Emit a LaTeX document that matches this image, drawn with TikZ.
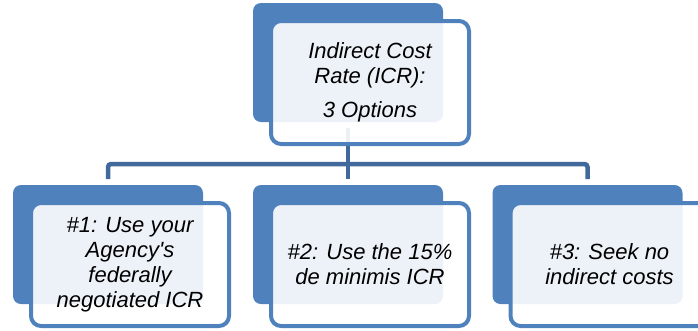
\documentclass[tikz,border=0pt]{standalone}
\usepackage{fontspec}
\setmainfont{Liberation Sans}
\usetikzlibrary{positioning}
\definecolor{OfficeBlue}{HTML}{4F81BD}
\definecolor{LinkBlue}{HTML}{41699C}
\tikzset{
  backbox/.style={rectangle, rounded corners=8pt, fill=OfficeBlue,
    minimum width=190pt, minimum height=119pt, inner sep=0pt, outer sep=0pt},
  frontbox/.style={rectangle, rounded corners=10pt, draw=OfficeBlue,
    line width=4pt, fill=white, fill opacity=0.9, text opacity=1,
    minimum width=198pt, minimum height=123pt, inner sep=0pt, outer sep=0pt,
    align=center, font=\fontsize{22}{25}\selectfont\itshape},
  link/.style={line width=4.5pt, LinkBlue, shorten <=6pt, shorten >=6pt}
}
\begin{document}
\begin{tikzpicture}[x=1pt,y=-1pt]
  \useasboundingbox (0,0) rectangle (698,330);
  \clip (0,0) rectangle (698,330);

  % back boxes
  \node[backbox] (b0) at (348,62.5) {};
  \foreach \n/\x in {1/108,2/348,3/587.5}{%
    \node[backbox] (b\n) at (\x,244.5) {};
  }

  % connectors
  \coordinate (bar) at (348,164);
  \draw[link] (b0.south) -- (b2.north);
  \draw[link, rounded corners=3pt] (b1.north) |- (bar) -| (b3.north);

  % front boxes
  \node[frontbox, below right=18pt and 18pt of b0.north west] (f0)
    {Indirect Cost\\Rate (ICR):\\[9pt]3 Options};
  \node[frontbox, below right=18pt and 18pt of b1.north west] (f1)
    {\#1: Use your\\Agency\textquotesingle s\\federally\\negotiated ICR};
  \node[frontbox, below right=18pt and 18pt of b2.north west] (f2)
    {\#2: Use the 15\%\\de minimis ICR};
  \node[frontbox, below right=18pt and 18pt of b3.north west] (f3)
    {\#3: Seek no\\indirect costs};
\end{tikzpicture}
\end{document}
